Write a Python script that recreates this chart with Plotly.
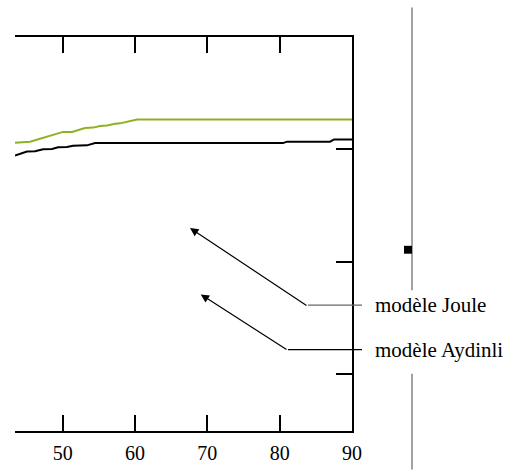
import plotly.graph_objects as go

# ---- data ----
joule_x = [43.40, 45.48, 50.04, 51.29, 53.08, 54.19, 55.16, 56.13, 57.23, 57.93, 60.28, 90.0]
joule_y = [2.059, 2.068, 2.155, 2.155, 2.190, 2.193, 2.208, 2.211, 2.228, 2.231, 2.266, 2.266]

aydinli_x = [43.40, 45.06, 46.17, 47.28, 48.52, 49.35, 50.59, 51.42, 53.36, 54.47, 80.47, 81.02, 86.97, 87.52, 90.0]
aydinli_y = [1.945, 1.980, 1.982, 2.000, 2.003, 2.018, 2.020, 2.032, 2.035, 2.055, 2.055, 2.068, 2.068, 2.088, 2.088]

x_ticks = [50, 60, 70, 80, 90]
y_ticks = [0, 1, 2, 3]
labels = ["modèle Joule", "modèle Aydinli"]

FONT = "Liberation Serif, Times New Roman, Times, serif"

fig = go.Figure()
fig.add_trace(go.Scatter(x=joule_x, y=joule_y, mode="lines",
                         line=dict(color="#8fb021", width=2), showlegend=False))
fig.add_trace(go.Scatter(x=aydinli_x, y=aydinli_y, mode="lines",
                         line=dict(color="#000000", width=2), showlegend=False))

W, H = 508, 476
L, R, T, B = 15, 352, 37, 437


def px(x):
    return (x - L) / (R - L)


def py(y):
    return (B - y) / (B - T)


annotations = []
shapes = []
# arrows: (tip_x, tip_y, tail_x, tail_y, leader color, label y)
arrows = [
    (190, 231, 308, 309.3, "#666666", 309.3),
    (200.7, 298.3, 288, 354.3, "#000000", 354.3),
]
for (tx, ty, sx, sy, col, ly), lab in zip(arrows, labels):
    annotations.append(dict(
        x=px(tx), y=py(ty), xref="paper", yref="paper",
        ax=sx - tx, ay=sy - ty, axref="pixel", ayref="pixel",
        text="", showarrow=True, arrowhead=2, arrowsize=1.4, arrowwidth=1.2,
        arrowcolor="#000000", standoff=0, startstandoff=0))
    shapes.append(dict(type="line", xref="paper", yref="paper",
                       x0=px(sx), y0=py(sy), x1=px(362), y1=py(sy),
                       line=dict(color=col, width=1.3)))
    annotations.append(dict(
        x=px(373), y=py(ly), xref="paper", yref="paper",
        text=lab, showarrow=False, xanchor="left", yanchor="middle",
        font=dict(family=FONT, size=21, color="#000000")))

# decorative vertical gray line with gap, and small black square
shapes.append(dict(type="line", xref="paper", yref="paper",
                   x0=px(412), x1=px(412), y0=py(7), y1=py(294),
                   line=dict(color="#707070", width=1.3)))
shapes.append(dict(type="line", xref="paper", yref="paper",
                   x0=px(412), x1=px(412), y0=py(379), y1=py(476),
                   line=dict(color="#707070", width=1.3)))
shapes.append(dict(type="rect", xref="paper", yref="paper",
                   x0=px(404), x1=px(412), y0=py(257), y1=py(249),
                   fillcolor="#000000", line=dict(width=0)))

fig.update_layout(
    width=W, height=H,
    margin=dict(l=L, r=W - R, t=T, b=H - B),
    paper_bgcolor="white", plot_bgcolor="white",
    showlegend=False,
    font=dict(family=FONT),
    annotations=annotations,
    shapes=shapes,
    xaxis=dict(range=[43.4, 90], tickvals=x_ticks, ticktext=[str(v) for v in x_ticks],
               showline=True, linecolor="black", linewidth=2, mirror="ticks",
               ticks="inside", ticklen=16, tickwidth=2, tickcolor="black",
               showgrid=False, zeroline=False, ticklabelstandoff=3,
               tickfont=dict(family=FONT, size=20, color="black")),
    yaxis=dict(range=[-0.509, 3.0], tickvals=y_ticks, side="right",
               showline=True, linecolor="black", linewidth=2,
               ticks="inside", ticklen=16, tickwidth=2, tickcolor="black",
               showticklabels=False, showgrid=False, zeroline=False),
)

fig.write_html("out.html", config={"displayModeBar": False},
               post_script="document.body.style.margin='0';document.body.style.padding='0';")
